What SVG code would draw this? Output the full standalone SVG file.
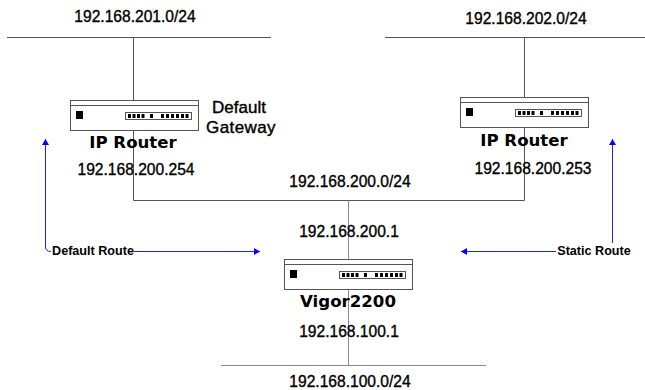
<svg xmlns="http://www.w3.org/2000/svg" width="645" height="390" viewBox="0 0 645 390">
<defs>
<g id="device">
<rect x="0.5" y="0.5" width="128" height="30" fill="#fff" stroke="#555" stroke-width="1"/>
<line x1="0.500" y1="5.500" x2="128.500" y2="5.500" stroke="#555"/>
<rect x="6" y="11" width="7" height="8" fill="#000"/>
<rect x="55.500" y="12.500" width="66" height="7" fill="#fff" stroke="#555"/>
<path d="M58 14h3v4h-3zM62.500 14h3v4h-3zM67 14h3v4h-3zM71.500 14h3v4h-3zM80 14h3v4h-3zM91 14h3v4h-3zM96 14h3v4h-3zM101 14h3v4h-3zM106 14h3v4h-3zM111 14h3v4h-3zM115.500 14h3v4h-3z" fill="#000"/>
</g>
<marker id="arrow" markerWidth="7" markerHeight="7" refX="6" refY="3.500" orient="auto" markerUnits="userSpaceOnUse">
<path d="M0 0L6 3.500L0 7z" fill="#0000ff"/>
</marker>
</defs>
<style>
text{font-family:"Liberation Sans",Arial,sans-serif;fill:#000;text-anchor:middle}
.net{font-size:15.600px;stroke:#000;stroke-width:.35}
.gw{font-size:17px;stroke:#000;stroke-width:.4}
.name{font-family:"DejaVu Sans",sans-serif;font-size:16.600px;font-weight:bold}
.route{font-size:12.600px;font-weight:bold}
.line{fill:none;stroke:#555;stroke-width:1}
.light{fill:none;stroke:#8a8a8a;stroke-width:1}
.blue{fill:none;stroke:#2222dd;stroke-width:1;marker-end:url(#arrow)}
</style>
<rect width="645" height="390" fill="#fff"/>
<g id="connectors">
<path class="line" d="M7 37.500H271M385 37.500H645M133.500 37.500V200.500H524.500V37.500"/>
<path class="light" d="M348.500 200.500V365M221 365.500H486"/>
<path class="blue" d="M51 251.500Q45.500 251.500 45.500 247V139"/>
<path class="blue" d="M134 251.500H260"/>
<path class="blue" d="M556 251.500H461"/>
<path class="blue" d="M612.500 243V139"/>
</g>
<g id="router1"><use href="#device" x="70" y="100"/><text class="name" x="133" y="148">IP Router</text><text class="net" x="136" y="175">192.168.200.254</text></g>
<g id="router2"><use href="#device" x="460" y="97"/><text class="name" x="524" y="146">IP Router</text><text class="net" x="533" y="174">192.168.200.253</text></g>
<g id="vigor"><use href="#device" x="284" y="259"/><text class="name" x="348" y="307">Vigor2200</text></g>
<g id="labels">
<text class="net" x="135" y="22">192.168.201.0/24</text>
<text class="net" x="526" y="24">192.168.202.0/24</text>
<text class="gw" x="239" y="113">Default</text>
<text class="gw" x="241" y="132.500" letter-spacing=".4">Gateway</text>
<text class="net" x="350" y="187">192.168.200.0/24</text>
<text class="net" x="349" y="237">192.168.200.1</text>
<text class="net" x="349" y="337">192.168.100.1</text>
<text class="net" x="350" y="387">192.168.100.0/24</text>
<text class="route" x="93" y="255">Default Route</text>
<text class="route" x="594" y="255">Static Route</text>
</g>
</svg>
